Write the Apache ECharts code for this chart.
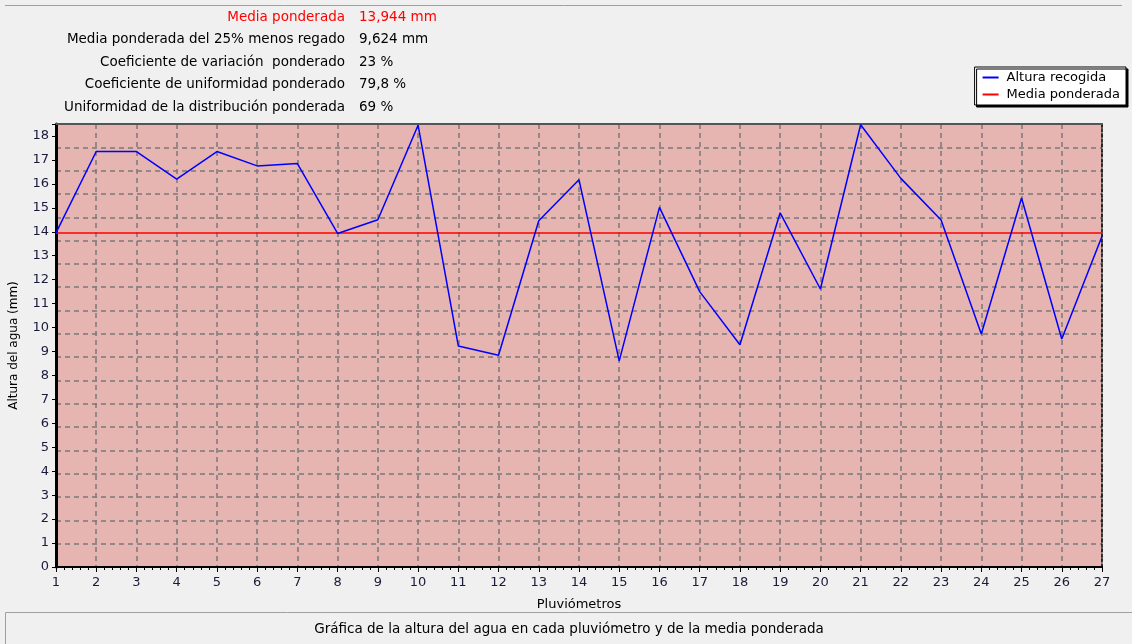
<!DOCTYPE html>
<html>
<head>
<meta charset="utf-8">
<script src="https://cdn.jsdelivr.net/npm/echarts@6/dist/echarts.min.js"></script>
<style>
  html, body { margin: 0; padding: 0; background: #f0f0f0; }
  #chart { width: 1132px; height: 644px; }
</style>
</head>
<body>
<div id="chart"></div>
<script>
// Pluviómetros 1..27
const pluviometros = [1, 2, 3, 4, 5, 6, 7, 8, 9, 10, 11, 12, 13, 14, 15, 16, 17, 18, 19, 20, 21, 22, 23, 24, 25, 26, 27];
const alturaRecogida = [13.95, 17.35, 17.35, 16.2, 17.35, 16.75, 16.85, 13.93, 14.5, 18.45,
  9.23, 8.84, 14.46, 16.17, 8.61, 15.02, 11.5, 9.28, 14.79, 11.61,
  18.47, 16.23, 14.49, 9.73, 15.41, 9.52, 13.81];
const mediaPonderada = 13.944;

const statLabels = [
  "Media ponderada",
  "Media ponderada del 25% menos regado",
  "Coeficiente de variación  ponderado",
  "Coeficiente de uniformidad ponderado",
  "Uniformidad de la distribución ponderada"
];
const statValues = ["13,944 mm", "9,624 mm", "23 %", "79,8 %", "69 %"];

const font = "DejaVu Sans";

const statGraphics = [];
statLabels.forEach((t, i) => {
  const y = 17.5 + i * 22.4;
  const color = i === 0 ? "#ff0000" : "#000";
  statGraphics.push({
    type: "text", x: 345, y: y,
    style: { text: t, fill: color, font: "13.5px '" + font + "'", textAlign: "right", textVerticalAlign: "middle" }
  });
  statGraphics.push({
    type: "text", x: 359, y: y,
    style: { text: statValues[i], fill: color, font: "13.5px '" + font + "'", textAlign: "left", textVerticalAlign: "middle" }
  });
});

const chart = echarts.init(document.getElementById("chart"));

const gridLine = { color: "#7a7a7a", type: [5, 4], width: 1.5 };

const option = {
  backgroundColor: "#f0f0f0",
  animation: false,
  textStyle: { fontFamily: font },
  grid: {
    left: 56, right: 30, top: 124, bottom: 77,
    show: true, backgroundColor: "#e6b4b1", borderWidth: 0
  },
  legend: {
    right: 6, top: 67,
    orient: "vertical",
    backgroundColor: "#fff",
    borderColor: "#000",
    borderWidth: 1,
    borderRadius: 0,
    padding: [4, 6, 4, 8],
    itemGap: 4,
    itemWidth: 16,
    itemHeight: 2,
    icon: "rect",
    shadowColor: "#000",
    shadowBlur: 0,
    shadowOffsetX: 2,
    shadowOffsetY: 2,
    textStyle: { fontFamily: font, fontSize: 13, color: "#000", padding: [0, 0, 0, 3] },
    data: ["Altura recogida", "Media ponderada"]
  },
  xAxis: [
    {
      type: "value",
      min: 1, max: 27, interval: 1,
      name: "Pluviómetros",
      nameLocation: "middle",
      nameGap: 31,
      nameTextStyle: { fontFamily: font, fontSize: 13, color: "#000" },
      axisLine: { show: true, onZero: false, lineStyle: { color: "#000", width: 2 } },
      axisTick: { show: true, length: 5, lineStyle: { color: "#000" } },
      minorTick: { show: true, splitNumber: 5, length: 3, lineStyle: { color: "#000" } },
      axisLabel: { fontFamily: font, fontSize: 13, color: "#1a1a3a", margin: 9 },
      splitLine: { show: true, lineStyle: gridLine }
    },
    {
      type: "value",
      position: "top",
      min: 1, max: 27,
      axisLine: { show: true, onZero: false, lineStyle: { color: "#555", width: 2 } },
      axisTick: { show: false },
      axisLabel: { show: false },
      splitLine: { show: false }
    }
  ],
  yAxis: [
    {
      type: "value",
      min: 0, max: 18.5, interval: 1,
      name: "Altura del agua (mm)",
      nameLocation: "middle",
      nameGap: 36,
      nameRotate: 90,
      nameTextStyle: { fontFamily: font, fontSize: 12, color: "#000" },
      axisLine: { show: true, onZero: false, lineStyle: { color: "#000", width: 3 } },
      axisTick: { show: true, length: 4, lineStyle: { color: "#000" } },
      axisLabel: {
        fontFamily: font, fontSize: 13, color: "#1a1a3a", margin: 7,
        formatter: (v) => (Number.isInteger(v) ? String(v) : "")
      },
      splitLine: { show: false }
    },
    {
      type: "value",
      position: "right",
      min: -0.5, max: 18.5, interval: 1,
      axisLine: { show: true, onZero: false, lineStyle: { color: "#000", width: 1.5, type: [3, 2] } },
      axisTick: { show: false },
      axisLabel: { show: false },
      splitLine: { show: true, lineStyle: gridLine }
    }
  ],
  graphic: [
    { type: "line", shape: { x1: 5, y1: 5.5, x2: 1122, y2: 5.5 }, style: { stroke: "#a0a0a0", lineWidth: 1 } },
    { type: "rect", shape: { x: 5.5, y: 612.5, width: 1140, height: 40 }, style: { fill: "none", stroke: "#a0a0a0", lineWidth: 1 } },
    {
      type: "text", x: 569, y: 629,
      style: {
        text: "Gráfica de la altura del agua en cada pluviómetro y de la media ponderada",
        font: "13.5px '" + font + "'", fill: "#000", textAlign: "center", textVerticalAlign: "middle"
      }
    }
  ].concat(statGraphics),
  series: [
    {
      name: "Media ponderada",
      type: "line",
      symbol: "none",
      lineStyle: { color: "#ff0000", width: 1.5 },
      itemStyle: { color: "#ff0000" },
      data: [[pluviometros[0], mediaPonderada], [pluviometros[pluviometros.length - 1], mediaPonderada]],
      z: 3
    },
    {
      name: "Altura recogida",
      type: "line",
      symbol: "none",
      lineStyle: { color: "#0000ff", width: 1.5 },
      itemStyle: { color: "#0000ff" },
      data: pluviometros.map((p, i) => [p, alturaRecogida[i]]),
      z: 4
    }
  ]
};

chart.setOption(option);
</script>
</body>
</html>
